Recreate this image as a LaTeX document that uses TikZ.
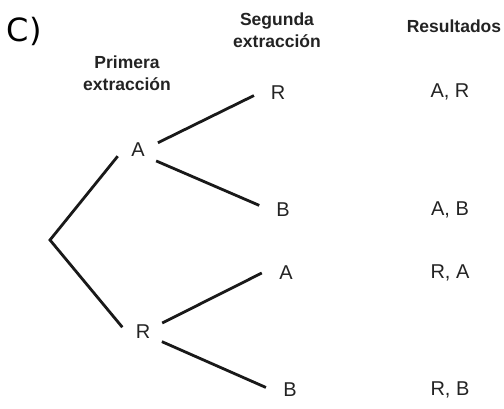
\documentclass[tikz,border=0pt]{standalone}
\usepackage{fontspec}
\setmainfont{Liberation Sans}
\newfontfamily\partfont{DejaVu Sans}
\usepackage{tikz}
\usetikzlibrary{positioning}
\definecolor{inkgray}{RGB}{35,35,35}
\tikzset{
  choice/.style={circle,inner sep=0pt,minimum size=42pt,font=\fontsize{20}{23}\selectfont,text=inkgray},
  second/.style={choice,minimum size=48pt},
  outcome/.style={inner sep=0pt,font=\fontsize{20}{23}\selectfont,text=inkgray},
  header/.style={inner sep=0pt,align=center,font=\bfseries\fontsize{17.5}{22.5}\selectfont,text=inkgray},
  branch/.style={line width=2.8pt,draw=black!90}
}

\begin{document}
\begin{tikzpicture}[x=1pt,y=-1pt]

\useasboundingbox (0,0) rectangle (504,408);

\node[inner sep=0pt,anchor=base west,font=\partfont\fontsize{32}{36}\selectfont] (part) at (6.5,41.5) {C)};

\node[header] (prim) at (127,73) {Primera\\extracción};
\node[header] (seg) at (277,30) {Segunda\\extracción};
\node[header] (res) at (454,26) {Resultados};

\coordinate (root) at (50,240);
\node[choice] (a1) at (138,150) {A};
\node[choice] (r1) at (143,332) {R};

\node[second] (a1r) at (278,93) {R};
\node[second] (a1b) at (283,210) {B};
\node[second] (r1a) at (286,273) {A};
\node[second] (r1b) at (290,390) {B};

\draw[branch] (a1.197) -- (root) -- (r1.167);
\foreach \u/\ua/\v/\va in {a1/20/a1r/186,a1/329/a1b/169,r1/25/r1a/180,r1/333/r1b/174}{
  \draw[branch] (\u.\ua) -- (\v.\va);
}

\foreach \n/\y/\lab in {out1/92/{A, R},out2/210/{A, B},out3/273/{R, A},out4/390/{R, B}}{
  \node[outcome] (\n) at (450,\y) {\lab};
}

\end{tikzpicture}
\end{document}
